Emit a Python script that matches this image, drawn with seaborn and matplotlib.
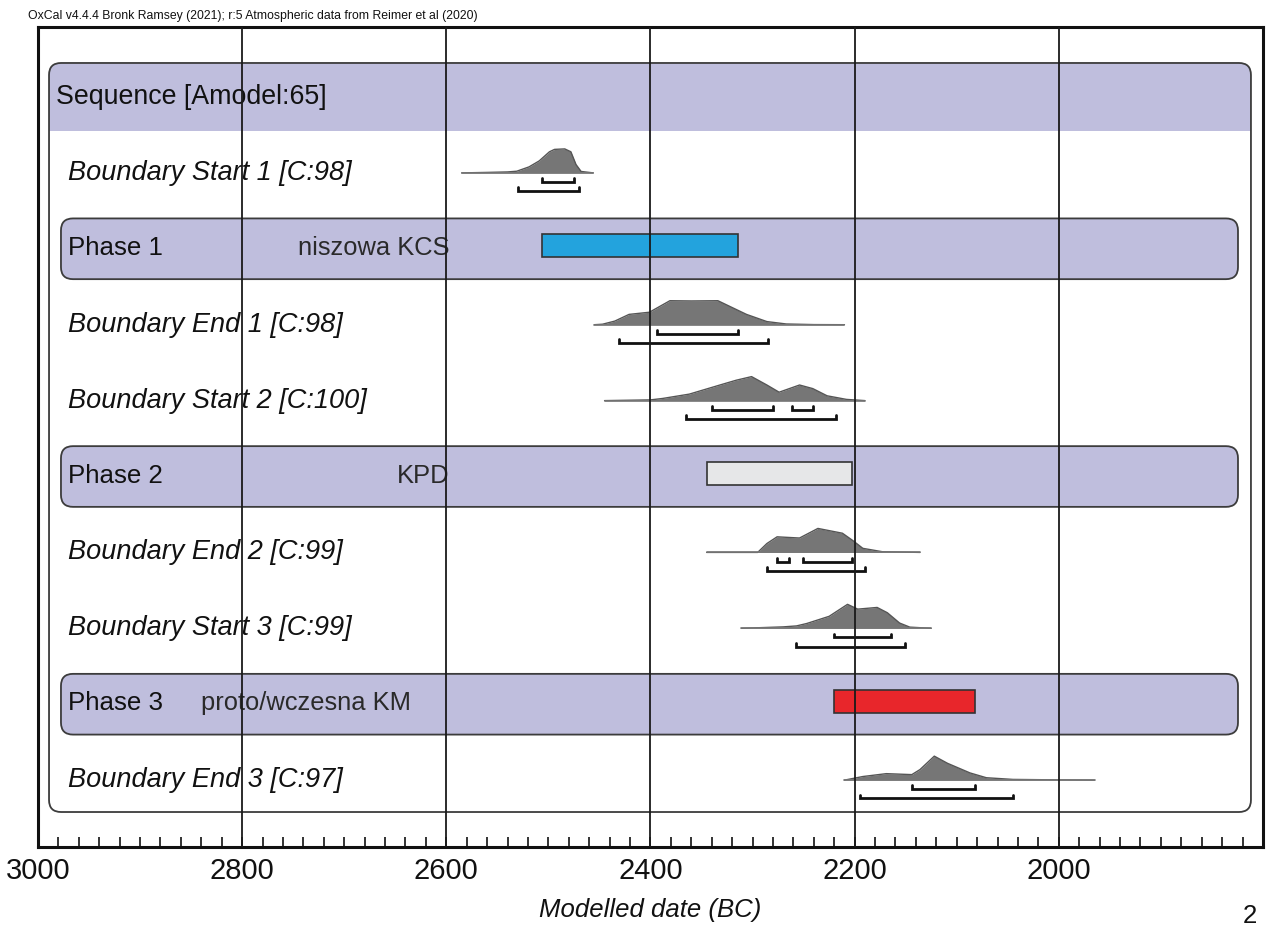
import matplotlib
matplotlib.use("Agg")
import matplotlib.pyplot as plt
from matplotlib.patches import FancyBboxPatch, Rectangle
import seaborn as sns
import pandas as pd

# ---------------- data ----------------
row_labels = ["Sequence [Amodel:65]", "Boundary Start 1 [C:98]", "Phase 1",
              "Boundary End 1 [C:98]", "Boundary Start 2 [C:100]", "Phase 2",
              "Boundary End 2 [C:99]", "Boundary Start 3 [C:99]", "Phase 3",
              "Boundary End 3 [C:97]"]

phase_rows = [2, 5, 8]
phase_names = ["niszowa KCS", "KPD", "proto/wczesna KM"]
phase_name_x = [2745, 2648, 2840]
phase_from = [2506, 2345, 2220]
phase_to = [2314, 2203, 2082]
phase_colors = ["#23a3dd", "#e6e7e8", "#e8262b"]

boundary_rows = [1, 3, 4, 6, 7, 9]

start1_years = [2585, 2560, 2540, 2531, 2519, 2509, 2499, 2494, 2484, 2478, 2473, 2468, 2456]
start1_dens = [0, 0.02, 0.04, 0.07, 0.25, 0.5, 0.88, 0.98, 1.0, 0.88, 0.35, 0.06, 0]

end1_years = [2455, 2447, 2435, 2421, 2401, 2381, 2360, 2334, 2306, 2286, 2267, 2240, 2210]
end1_dens = [0, 0.02, 0.15, 0.43, 0.52, 1.0, 0.99, 1.0, 0.43, 0.13, 0.03, 0.005, 0]

start2_years = [2445, 2400, 2388, 2362, 2332, 2316, 2301, 2286, 2274, 2254, 2241, 2227, 2208, 2190]
start2_dens = [0, 0.03, 0.09, 0.27, 0.65, 0.85, 1.0, 0.65, 0.35, 0.65, 0.5, 0.2, 0.05, 0]

end2_years = [2345, 2295, 2286, 2276, 2254, 2236, 2212, 2202, 2192, 2173, 2136]
end2_dens = [0, 0, 0.37, 0.65, 0.6, 1.0, 0.8, 0.5, 0.17, 0.03, 0]

start3_years = [2311, 2270, 2257, 2247, 2225, 2207, 2197, 2178, 2168, 2156, 2146, 2125]
start3_dens = [0, 0.06, 0.1, 0.2, 0.5, 1.0, 0.8, 0.87, 0.65, 0.22, 0.05, 0]

end3_years = [2210, 2192, 2169, 2144, 2136, 2122, 2109, 2087, 2071, 2045, 1999, 1965]
end3_dens = [0, 0.15, 0.27, 0.23, 0.44, 1.0, 0.7, 0.3, 0.1, 0.03, 0.01, 0]

dist_years = [start1_years, end1_years, start2_years, end2_years, start3_years, end3_years]
dist_dens = [start1_dens, end1_dens, start2_dens, end2_dens, start3_dens, end3_dens]

range68 = [[(2506, 2475)], [(2394, 2314)], [(2340, 2280), (2261, 2241)],
           [(2276, 2264), (2251, 2203)], [(2220, 2164)], [(2144, 2082)]]
range95 = [[(2530, 2470)], [(2431, 2285)], [(2365, 2218)],
           [(2286, 2190)], [(2257, 2151)], [(2195, 2045)]]

grid_years = [2800, 2600, 2400, 2200, 2000]
major_ticks = [3000, 2800, 2600, 2400, 2200, 2000]
tick_labels = ["3000", "2800", "2600", "2400", "2200", "2000"]
minor_ticks = list(range(1800, 3001, 20))

header_text = "OxCal v4.4.4 Bronk Ramsey (2021); r:5 Atmospheric data from Reimer et al (2020)"
xlabel_text = "Modelled date (BC)"

# ---------------- style ----------------
sns.set_theme(style="white")
plt.rcParams["font.family"] = ["Liberation Sans", "DejaVu Sans"]

fig = plt.figure(figsize=(12.66, 9.34), dpi=100)
ax = fig.add_axes([38 / 1266, 87 / 934, 1225 / 1266, 820 / 934])
ax.set_xlim(3000, 1800)
ax.set_ylim(9.881, -0.922)

LAV = "#bfbedd"
EDGE = "#3c3c3c"
px_year = 200 / 204.0
px_row = 1 / 75.9
aspect = (12 * px_row) / (12 * px_year)
rsize = 12 * px_year

# outer sequence box
ox0, ox1 = 1811.8, 2989.2
oy0, oy1 = -0.448, 9.42
outer_fill = FancyBboxPatch((ox0, oy0), ox1 - ox0, oy1 - oy0,
                            boxstyle=f"round,pad=0,rounding_size={rsize}",
                            mutation_aspect=aspect, facecolor=LAV, edgecolor="none", zorder=1)
ax.add_patch(outer_fill)
clip = Rectangle((1800, -0.6), 1200, 0.6 + 0.448, transform=ax.transData, facecolor="none")
outer_fill.set_clip_path(clip)
ax.add_patch(FancyBboxPatch((ox0, oy0), ox1 - ox0, oy1 - oy0,
                            boxstyle=f"round,pad=0,rounding_size={rsize}",
                            mutation_aspect=aspect, facecolor="none", edgecolor=EDGE,
                            linewidth=1.3, zorder=2))
ax.text(2982, 0.0, row_labels[0], fontsize=19.3, va="center", ha="left", zorder=4, color="#111")

# phase boxes
px0, px1 = 1824.5, 2977.5
for i, r in enumerate(phase_rows):
    ax.add_patch(FancyBboxPatch((px0, r - 0.40), px1 - px0, 0.80,
                                boxstyle=f"round,pad=0,rounding_size={rsize}",
                                mutation_aspect=aspect, facecolor=LAV, edgecolor=EDGE,
                                linewidth=1.3, zorder=2))
    ax.text(2971, r - 0.01, row_labels[r], fontsize=18.6, va="center", ha="left", zorder=4, color="#111")
    ax.text(phase_name_x[i], r - 0.01, phase_names[i], fontsize=18.4, va="center", ha="left",
            zorder=4, color="#2a2a2a")
    ax.add_patch(Rectangle((phase_to[i], r - 0.19), phase_from[i] - phase_to[i], 0.30,
                           facecolor=phase_colors[i], edgecolor="#333", linewidth=1.2, zorder=3))

# boundary distributions
H = 0.316
for k, r in enumerate(boundary_rows):
    yrs = dist_years[k]
    dens = dist_dens[k]
    df = pd.DataFrame({"year": yrs, "y": [r - d * H for d in dens]})
    ax.fill_between(yrs, [r] * len(yrs), df["y"], color="#767676", linewidth=0, zorder=3)
    sns.lineplot(data=df, x="year", y="y", ax=ax, color="#555555", linewidth=1.0,
                 sort=False, estimator=None, zorder=3)
    ax.plot([yrs[0], yrs[-1]], [r, r], color="#777", linewidth=1.2, zorder=3)
    for (a, b) in range68[k]:
        yy = r + 0.12
        ax.plot([a, a, b, b], [yy - 0.05, yy, yy, yy - 0.05], color="#111", linewidth=2.0,
                solid_joinstyle="miter", zorder=3)
    for (a, b) in range95[k]:
        yy = r + 0.24
        ax.plot([a, a, b, b], [yy - 0.05, yy, yy, yy - 0.05], color="#111", linewidth=2.0,
                solid_joinstyle="miter", zorder=3)
    ax.text(2971, r, row_labels[r], fontsize=19.5, style="italic", va="center", ha="left",
            zorder=4, color="#111")

# vertical grid lines
for g in grid_years:
    ax.axvline(g, color="#1a1a1a", linewidth=1.3, zorder=6)

# axes
for s in ax.spines.values():
    s.set_linewidth(2.2)
    s.set_color("#111")
    s.set_visible(True)
ax.set_xticks(major_ticks)
ax.set_xticklabels(tick_labels, fontsize=21)
ax.set_xticks(minor_ticks, minor=True)
ax.tick_params(axis="x", which="both", direction="in", bottom=True, top=False, colors="#111",
               pad=7)
ax.tick_params(axis="x", which="minor", length=7, width=1.2)
ax.tick_params(axis="x", which="major", length=7, width=1.2)
ax.set_yticks([])
ax.set_xlabel("")
ax.set_ylabel("")

fig.text(650 / 1266, 1 - 910 / 934, xlabel_text, fontsize=18.5, style="italic", ha="center",
         va="center", color="#111")
fig.text(1250 / 1266, 1 - 916 / 934, "2", fontsize=18.5, ha="center", va="center", color="#111")
fig.text(28 / 1266, 1 - 16 / 934, header_text, fontsize=8.8, ha="left", va="center",
         color="#111")

fig.savefig("out.png", dpi=100)
